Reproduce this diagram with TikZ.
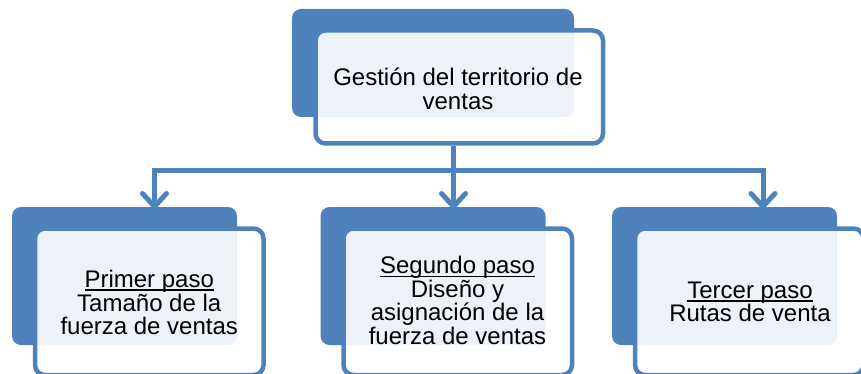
\documentclass[tikz,border=0pt]{standalone}
\usepackage{fontspec}
\setmainfont{Liberation Sans}
\usetikzlibrary{arrows.meta}
\definecolor{accent}{HTML}{4F81BD}
\newsavebox\ulsavebox
\newcommand\ulword[1]{\sbox\ulsavebox{#1}\rlap{\rule[-3.2pt]{\wd\ulsavebox}{1.2pt}}\usebox\ulsavebox}
\tikzset{
  backbox/.style={rounded corners=9pt, fill=accent, inner sep=0pt},
  frontbox/.style={rounded corners=10pt, draw=accent, line width=4.5pt, fill=white, fill opacity=0.9, text opacity=1, inner sep=0pt},
  conn/.style={draw=accent, line width=5pt},
  arrowconn/.style={conn, -{Straight Barb[length=13pt,width=24pt,line cap=round,line join=round]}},
  labeltext/.style={inner sep=0pt, align=center, font=\fontsize{24}{23.6}\selectfont, text=black}
}
\begin{document}
\begin{tikzpicture}[x=1pt,y=-1pt]
\useasboundingbox (0,0) rectangle (861,374);
% top
\node[backbox, minimum width=282pt, minimum height=108pt] (topback) at (433,63) {};
\node[frontbox, minimum width=287.5pt, minimum height=113pt] (topfront) at (459.25,87) {};
\node[labeltext] (toplabel) at (458,88.5) {Gestión del territorio de\\ventas};
% box 1
\node[backbox, minimum width=225pt, minimum height=138pt] (b1back) at (124.5,276) {};
\node[frontbox, minimum width=228.5pt, minimum height=146.5pt] (b1front) at (149.25,301.75) {};
\node[labeltext] (b1label) at (149.25,302.5) {\ulword{Primer paso}\\Tamaño de la\\fuerza de ventas};
% box 2
\node[backbox, minimum width=225pt, minimum height=138pt] (b2back) at (433,276) {};
\node[frontbox, minimum width=228.5pt, minimum height=146.5pt] (b2front) at (457.75,301.75) {};
\node[labeltext] (b2label) at (457.5,300.5) {\ulword{Segundo paso}\\Diseño y\\asignación de la\\fuerza de ventas};
% box 3
\node[backbox, minimum width=225pt, minimum height=138pt] (b3back) at (724.5,276) {};
\node[frontbox, minimum width=228.5pt, minimum height=146.5pt] (b3front) at (749.25,301.75) {};
\node[labeltext] (b3label) at (750,302) {\ulword{Tercer paso}\\Rutas de venta};
% connectors
\coordinate (hub) at (453.5,171);
\coordinate (t1) at (154.5,209);
\coordinate (t2) at (453.5,209);
\coordinate (t3) at (763,209);
\draw[arrowconn] (hub) -| (t1);
\draw[arrowconn] (hub) -| (t3);
\draw[arrowconn] (topfront.south -| hub) -- (t2);
\end{tikzpicture}
\end{document}
